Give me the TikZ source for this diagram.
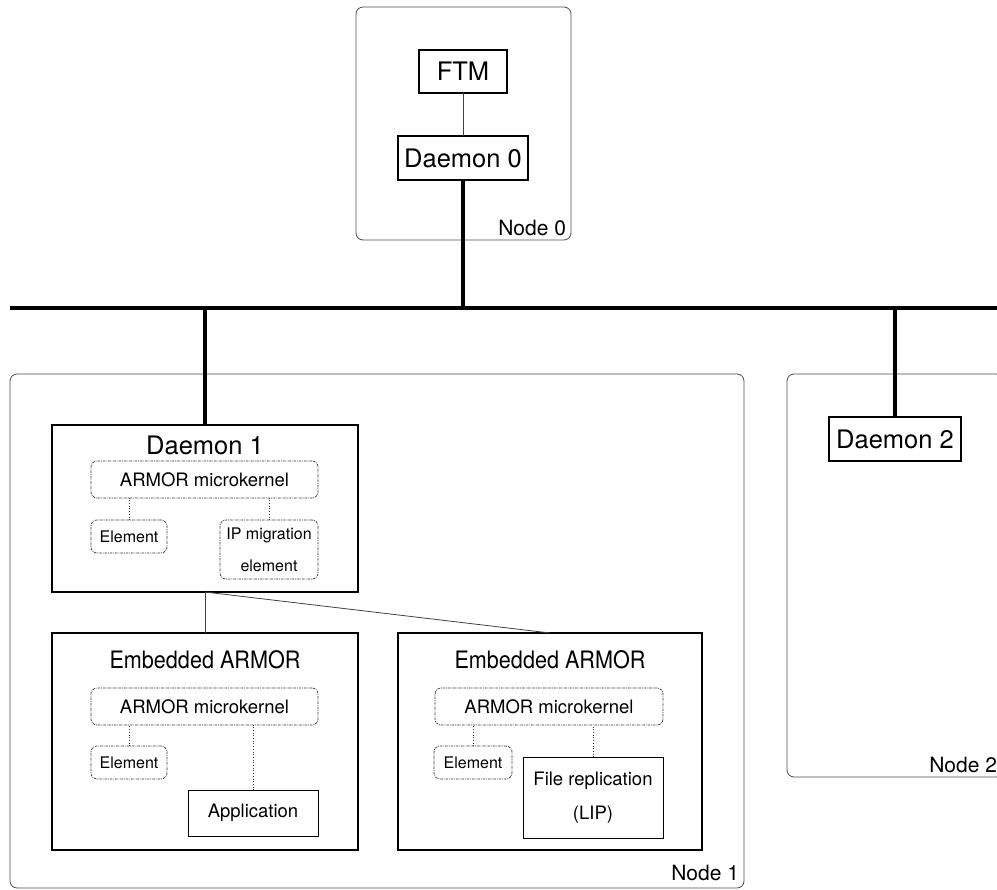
\documentclass[tikz,border=0pt]{standalone}
\usepackage{fontspec}
\setmainfont{TeX Gyre Heros}
\newfontfamily\condfont[FakeStretch=0.9]{TeX Gyre Heros}
\begin{document}
\begin{tikzpicture}[x=1pt,y=-1pt,
  every node/.style={inner sep=0pt, outer sep=0pt},
  hard/.style={draw, line width=1.6pt, rectangle},
  soft/.style={draw=black!80, line width=0.7pt, rounded corners=6pt, dash pattern=on 2.5pt off 1pt on 0.8pt off 1pt},
  plainbox/.style={draw, line width=1pt, rectangle},
  region/.style={draw=black!70, line width=0.8pt, rounded corners=7pt},
  busline/.style={line width=3.2pt},
  thinline/.style={draw=black!75, line width=0.8pt},
  dotline/.style={draw=black!80, line width=0.7pt, dotted},
  big/.style={font=\fontsize{25.5}{30}\selectfont},
  title/.style={font=\condfont\fontsize{24}{28}\selectfont},
  mid/.style={font=\fontsize{18.5}{34}\selectfont, align=center},
  small/.style={font=\fontsize{16}{32}\selectfont, align=center},
  lbl/.style={font=\fontsize{21}{25}\selectfont},
]
\useasboundingbox (0,0) rectangle (997,890);

% regions
\node[region, minimum width=215pt, minimum height=233pt] (n0) at (463.5,123.5) {};
\node[region, minimum width=734pt, minimum height=514pt] (n1) at (377,631) {};
\node[region, minimum width=216pt, minimum height=403pt] (n2) at (895,575.5) {};
\node[lbl, anchor=base east] (n0lbl) at (566,236) {Node 0};
\node[lbl, anchor=base east] (n1lbl) at (739,880) {Node 1};
\node[lbl, anchor=base east] (n2lbl) at (997,772) {Node 2};

% node 0
\node[hard, big, minimum width=88pt, minimum height=43pt] (ftm) at (463,71.5) {FTM};
\node[hard, big, minimum width=130pt, minimum height=44pt] (d0) at (463,158) {Daemon 0};
\draw[thinline] (ftm) -- (d0);

% daemon 2
\node[hard, big, minimum width=132pt, minimum height=44pt] (d2) at (895,439) {Daemon 2};

% daemon 1
\node[hard, minimum width=306pt, minimum height=167pt] (d1) at (205,508.5) {};
\node[big] (d1t) at (205,445) {Daemon 1};
\node[soft, mid, minimum width=227pt, minimum height=37pt] (mk1) at (204.5,479.5) {ARMOR microkernel};
\node[soft, small, minimum width=76pt, minimum height=33pt] (el1) at (129,536.5) {Element};
\node[soft, small, minimum width=98pt, minimum height=59pt] (ip1) at (269,549.5) {IP migration\\element};
\draw[dotline] (el1.north) -- (el1.north |- mk1.south);
\draw[dotline] (ip1.north) -- (ip1.north |- mk1.south);

% embedded armor 1
\node[hard, minimum width=306pt, minimum height=217pt] (ea1) at (205,741.5) {};
\node[title] (ea1t) at (205,660) {Embedded ARMOR};
\node[soft, mid, minimum width=227pt, minimum height=37pt] (mk2) at (204.5,706.5) {ARMOR microkernel};
\node[soft, small, minimum width=76pt, minimum height=33pt] (el2) at (129,762.5) {Element};
\node[plainbox, mid, minimum width=130pt, minimum height=46pt] (app) at (253,813) {Application};
\draw[dotline] (el2.north) -- (el2.north |- mk2.south);
\draw[dotline] (app.north) -- (app.north |- mk2.south);

% embedded armor 2
\node[hard, minimum width=304pt, minimum height=217pt] (ea2) at (550,741.5) {};
\node[title] (ea2t) at (550,660) {Embedded ARMOR};
\node[soft, mid, minimum width=228pt, minimum height=37pt] (mk3) at (549,706.5) {ARMOR microkernel};
\node[soft, small, minimum width=78pt, minimum height=33pt] (el3) at (473,762.5) {Element};
\node[plainbox, mid, minimum width=140pt, minimum height=81pt] (file) at (593,797.5) {File replication\\(LIP)};
\draw[dotline] (el3.north) -- (el3.north |- mk3.south);
\draw[dotline] (file.north) -- (file.north |- mk3.south);

% daemon 1 to embedded
\draw[thinline] (d1.south) -- (ea1.north);
\draw[thinline] (d1.south) -- (ea2.north);

% bus
\coordinate (busL) at (10,308);
\coordinate (busR) at (1005,308);
\draw[busline] (busL) -- (busR);
\draw[busline] (d0.south) -- (d0.south |- busL);
\draw[busline] (d1.north) -- (d1.north |- busL);
\draw[busline] (d2.north) -- (d2.north |- busL);
\end{tikzpicture}
\end{document}
